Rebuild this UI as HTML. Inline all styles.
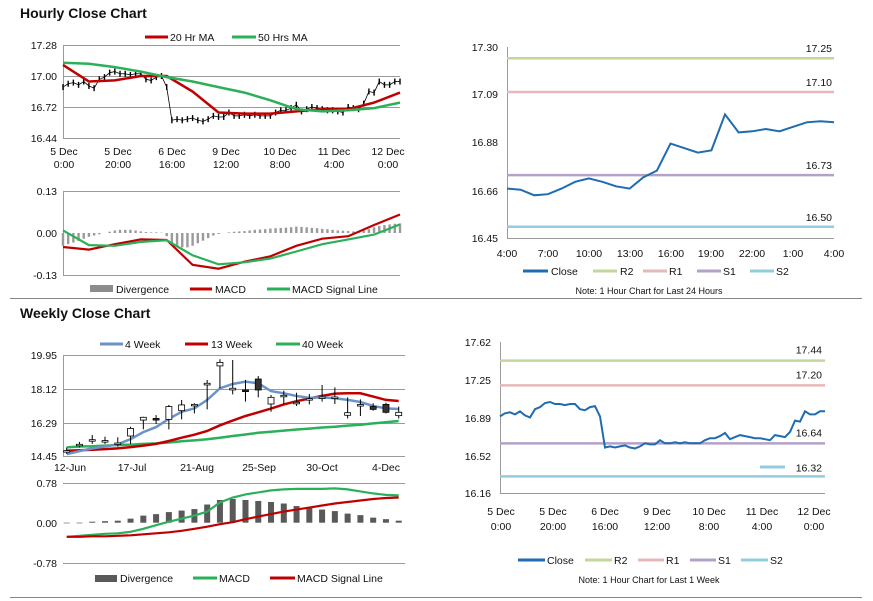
<!DOCTYPE html>
<html><head><meta charset="utf-8"><style>
body{margin:0;background:#fff;}
svg{display:block;font-family:"Liberation Sans",Arial,sans-serif;}
.t{font-size:10.5px;fill:#111;}
.s{font-size:9px;fill:#111;}
.ttl{font-size:14px;font-weight:bold;fill:#111;}
.g{stroke:#9a9a9a;stroke-width:1;}
</style></head><body>
<svg id="root" width="873" height="601" viewBox="0 0 873 601">
<rect width="873" height="601" fill="#fff"/>
<text class="ttl" x="20" y="18">Hourly Close Chart</text>
<text class="ttl" x="20" y="318">Weekly Close Chart</text>
<line x1="10" y1="298.5" x2="862" y2="298.5" stroke="#888"/>
<line x1="10" y1="597.5" x2="862" y2="597.5" stroke="#888"/>

<!-- Top-left hourly price -->
<g>
<line class="g" x1="63" y1="45.5" x2="400" y2="45.5"/><line class="g" x1="63" y1="76.5" x2="400" y2="76.5"/><line class="g" x1="63" y1="107.5" x2="400" y2="107.5"/><line class="g" x1="63" y1="138.5" x2="400" y2="138.5"/>
<line class="g" x1="63.5" y1="45" x2="63.5" y2="138"/>
<text class="t" x="57" y="49" text-anchor="end">17.28</text><text class="t" x="57" y="80" text-anchor="end">17.00</text><text class="t" x="57" y="111" text-anchor="end">16.72</text><text class="t" x="57" y="142" text-anchor="end">16.44</text>
<g text-anchor="middle"><text class="t" x="64" y="155">5 Dec</text><text class="t" x="64" y="168">0:00</text><text class="t" x="118" y="155">5 Dec</text><text class="t" x="118" y="168">20:00</text><text class="t" x="172" y="155">6 Dec</text><text class="t" x="172" y="168">16:00</text><text class="t" x="226" y="155">9 Dec</text><text class="t" x="226" y="168">12:00</text><text class="t" x="280" y="155">10 Dec</text><text class="t" x="280" y="168">8:00</text><text class="t" x="334" y="155">11 Dec</text><text class="t" x="334" y="168">4:00</text><text class="t" x="388" y="155">12 Dec</text><text class="t" x="388" y="168">0:00</text></g>
</g>
<g><line x1="145" y1="37" x2="168" y2="37" stroke="#c00000" stroke-width="3"/><text class="t" x="170" y="41">20 Hr MA</text><line x1="232" y1="37" x2="256" y2="37" stroke="#2bb05a" stroke-width="3"/><text class="t" x="258" y="41">50 Hrs MA</text></g>
<g id="tl"></g>

<!-- hourly MACD -->
<g>
<line class="g" x1="63" y1="191.5" x2="400" y2="191.5"/><line class="g" x1="63" y1="275.5" x2="400" y2="275.5"/><line class="g" x1="63.5" y1="191" x2="63.5" y2="275"/>
<text class="t" x="57" y="195" text-anchor="end">0.13</text><text class="t" x="57" y="237" text-anchor="end">0.00</text><text class="t" x="57" y="279" text-anchor="end">-0.13</text>
</g>
<g><rect x="90" y="285" width="23" height="7" fill="#8c8c8c"/><text class="t" x="116" y="293">Divergence</text><line x1="190" y1="289" x2="212" y2="289" stroke="#c00000" stroke-width="3"/><text class="t" x="215" y="293">MACD</text><line x1="267" y1="289" x2="290" y2="289" stroke="#2bb05a" stroke-width="3"/><text class="t" x="292" y="293">MACD Signal Line</text></g>
<g id="tm"></g>

<!-- top-right -->
<g>
<line class="g" x1="507.5" y1="47" x2="507.5" y2="238"/><line class="g" x1="507" y1="238.5" x2="834" y2="238.5"/>
<text class="t" x="498" y="51" text-anchor="end">17.30</text><text class="t" x="498" y="98" text-anchor="end">17.09</text><text class="t" x="498" y="146" text-anchor="end">16.88</text><text class="t" x="498" y="195" text-anchor="end">16.66</text><text class="t" x="498" y="242" text-anchor="end">16.45</text>
<g text-anchor="middle"><text class="t" x="507" y="257">4:00</text><text class="t" x="548" y="257">7:00</text><text class="t" x="589" y="257">10:00</text><text class="t" x="630" y="257">13:00</text><text class="t" x="671" y="257">16:00</text><text class="t" x="711" y="257">19:00</text><text class="t" x="752" y="257">22:00</text><text class="t" x="793" y="257">1:00</text><text class="t" x="834" y="257">4:00</text></g>
</g>
<g id="tr"></g>
<g><line x1="523" y1="271" x2="548" y2="271" stroke="#1f6cb0" stroke-width="3"/><text class="t" x="551" y="275">Close</text><line x1="593" y1="271" x2="617" y2="271" stroke="#c3d69b" stroke-width="3"/><text class="t" x="620" y="275">R2</text><line x1="643" y1="271" x2="667" y2="271" stroke="#e6b9b8" stroke-width="3"/><text class="t" x="669" y="275">R1</text><line x1="697" y1="271" x2="721" y2="271" stroke="#b3a2c7" stroke-width="3"/><text class="t" x="723" y="275">S1</text><line x1="750" y1="271" x2="774" y2="271" stroke="#93cddd" stroke-width="3"/><text class="t" x="776" y="275">S2</text>
<text class="s" x="649" y="294" text-anchor="middle">Note: 1 Hour Chart for Last 24 Hours</text></g>

<!-- weekly -->
<g>
<line class="g" x1="63" y1="355.5" x2="405" y2="355.5"/><line class="g" x1="63" y1="389.5" x2="405" y2="389.5"/><line class="g" x1="63" y1="423.5" x2="405" y2="423.5"/><line class="g" x1="63" y1="456.5" x2="405" y2="456.5"/><line class="g" x1="63.5" y1="355" x2="63.5" y2="456"/>
<text class="t" x="57" y="359" text-anchor="end">19.95</text><text class="t" x="57" y="393" text-anchor="end">18.12</text><text class="t" x="57" y="427" text-anchor="end">16.29</text><text class="t" x="57" y="460" text-anchor="end">14.45</text>
<g text-anchor="middle"><text class="t" x="70" y="471">12-Jun</text><text class="t" x="132" y="471">17-Jul</text><text class="t" x="197" y="471">21-Aug</text><text class="t" x="259" y="471">25-Sep</text><text class="t" x="322" y="471">30-Oct</text><text class="t" x="386" y="471">4-Dec</text></g>
</g>
<g><line x1="100" y1="344" x2="123" y2="344" stroke="#6a94c8" stroke-width="3"/><text class="t" x="125" y="348">4 Week</text><line x1="185" y1="344" x2="208" y2="344" stroke="#c00000" stroke-width="3"/><text class="t" x="211" y="348">13 Week</text><line x1="276" y1="344" x2="300" y2="344" stroke="#2bb05a" stroke-width="3"/><text class="t" x="302" y="348">40 Week</text></g>
<g id="wk"></g>
<g>
<line class="g" x1="63" y1="483.5" x2="405" y2="483.5"/><line class="g" x1="63" y1="563.5" x2="405" y2="563.5"/>
<text class="t" x="57" y="487" text-anchor="end">0.78</text><text class="t" x="57" y="527" text-anchor="end">0.00</text><text class="t" x="57" y="567" text-anchor="end">-0.78</text>
</g>
<g><rect x="95" y="575" width="22" height="7" fill="#595959"/><text class="t" x="120" y="582">Divergence</text><line x1="193" y1="578" x2="217" y2="578" stroke="#2bb05a" stroke-width="3"/><text class="t" x="219" y="582">MACD</text><line x1="270" y1="578" x2="295" y2="578" stroke="#c00000" stroke-width="3"/><text class="t" x="297" y="582">MACD Signal Line</text></g>
<g id="wm"></g>

<!-- bottom-right -->
<g>
<line class="g" x1="500.5" y1="342" x2="500.5" y2="493"/><line class="g" x1="500" y1="493.5" x2="825" y2="493.5"/>
<text class="t" x="491" y="346" text-anchor="end">17.62</text><text class="t" x="491" y="384" text-anchor="end">17.25</text><text class="t" x="491" y="422" text-anchor="end">16.89</text><text class="t" x="491" y="460" text-anchor="end">16.52</text><text class="t" x="491" y="497" text-anchor="end">16.16</text>
<g text-anchor="middle"><text class="t" x="501" y="515">5 Dec</text><text class="t" x="501" y="530">0:00</text><text class="t" x="553" y="515">5 Dec</text><text class="t" x="553" y="530">20:00</text><text class="t" x="605" y="515">6 Dec</text><text class="t" x="605" y="530">16:00</text><text class="t" x="657" y="515">9 Dec</text><text class="t" x="657" y="530">12:00</text><text class="t" x="709" y="515">10 Dec</text><text class="t" x="709" y="530">8:00</text><text class="t" x="762" y="515">11 Dec</text><text class="t" x="762" y="530">4:00</text><text class="t" x="814" y="515">12 Dec</text><text class="t" x="814" y="530">0:00</text></g>
</g>
<g id="br"></g>
<line x1="760" y1="467" x2="785" y2="467" stroke="#93cddd" stroke-width="3"/>
<g><line x1="518" y1="560" x2="545" y2="560" stroke="#1f6cb0" stroke-width="3"/><text class="t" x="547" y="564">Close</text><line x1="585" y1="560" x2="612" y2="560" stroke="#c3d69b" stroke-width="3"/><text class="t" x="614" y="564">R2</text><line x1="638" y1="560" x2="664" y2="560" stroke="#e6b9b8" stroke-width="3"/><text class="t" x="666" y="564">R1</text><line x1="690" y1="560" x2="716" y2="560" stroke="#b3a2c7" stroke-width="3"/><text class="t" x="718" y="564">S1</text><line x1="741" y1="560" x2="768" y2="560" stroke="#93cddd" stroke-width="3"/><text class="t" x="770" y="564">S2</text>
<text class="s" x="649" y="583" text-anchor="middle">Note: 1 Hour Chart for Last 1 Week</text></g>
</svg>
<script>
// ---- hourly (1 week) close data ----
const hourClose=[16.90,16.93,16.94,16.92,16.95,16.91,16.89,16.97,16.99,17.03,17.04,17.02,17.02,17.01,17.02,17.02,16.97,16.96,16.99,17.00,16.90,16.60,16.61,16.60,16.61,16.62,16.60,16.59,16.61,16.64,16.63,16.63,16.67,16.64,16.64,16.65,16.64,16.65,16.64,16.64,16.64,16.67,16.69,16.69,16.71,16.74,16.68,16.70,16.72,16.71,16.70,16.69,16.69,16.68,16.67,16.72,16.71,16.70,16.75,16.86,16.85,16.95,16.92,16.92,16.95,16.95];
const ma20=[17.10,16.95,16.96,17.00,17.00,16.86,16.67,16.66,16.66,16.68,16.70,16.70,16.76,16.85];
const ma50=[17.12,17.11,17.08,17.04,16.99,16.95,16.90,16.85,16.78,16.70,16.68,16.69,16.71,16.76];
const hMacd=[-0.044,-0.052,-0.035,-0.020,-0.022,-0.100,-0.112,-0.090,-0.073,-0.040,-0.018,-0.010,0.025,0.058];
const hSignal=[0.008,-0.038,-0.040,-0.028,-0.023,-0.070,-0.098,-0.092,-0.080,-0.058,-0.035,-0.020,-0.005,0.027];
const hDiv=[-0.040,-0.035,-0.030,-0.025,-0.018,-0.012,-0.008,-0.004,0.000,0.004,0.008,0.010,0.010,0.010,0.008,0.005,0.003,0.002,0.002,0.001,-0.010,-0.030,-0.040,-0.045,-0.045,-0.040,-0.032,-0.024,-0.016,-0.008,-0.003,0.000,0.002,0.004,0.005,0.006,0.008,0.010,0.011,0.012,0.014,0.015,0.016,0.017,0.018,0.020,0.019,0.018,0.016,0.015,0.013,0.012,0.010,0.008,0.007,0.006,0.005,0.005,0.008,0.012,0.018,0.022,0.025,0.027,0.029,0.030];
// ---- 24h ----
const dayClose=[16.67,16.665,16.64,16.645,16.67,16.70,16.715,16.70,16.68,16.67,16.72,16.75,16.87,16.85,16.83,16.84,17.00,16.92,16.925,16.935,16.925,16.945,16.965,16.97,16.965];
const dayLevels=[17.25,17.10,16.73,16.50];
const dayLabels=["17.25","17.10","16.73","16.50"];
const weekLevels=[17.44,17.20,16.64,16.32];
const weekLabels=["17.44","17.20","16.64","16.32"];
const levelNames=["r2","r1","s1","s2"];
// ---- weekly ----
const wOpen=[14.72,15.10,15.33,15.28,15.15,15.57,16.43,16.52,16.47,16.94,17.22,18.33,19.36,18.06,18.06,18.65,17.30,17.73,17.35,17.55,17.64,17.64,16.69,17.23,17.16,17.28,16.67];
const wClose=[14.78,15.12,15.37,15.32,15.19,15.98,16.58,16.43,17.16,17.25,17.28,18.42,19.55,18.15,17.97,18.06,17.66,17.77,17.39,17.59,17.68,17.68,16.83,17.27,17.01,16.85,16.85];
const wHigh=[14.95,15.25,15.62,15.53,15.50,16.07,16.61,16.70,17.25,17.52,17.34,18.60,19.72,19.68,18.60,18.81,17.79,18.02,17.91,17.84,18.33,18.20,17.66,17.55,17.34,17.37,17.16];
const wLow=[14.60,14.95,15.14,15.14,14.99,15.14,15.93,16.22,15.93,16.47,16.79,17.01,18.15,17.82,17.43,17.66,16.88,17.30,17.19,17.28,17.43,17.30,16.52,16.65,16.94,16.79,16.52];
const w4=[14.59,14.75,14.90,15.00,15.12,15.40,15.78,16.05,16.50,16.88,17.06,17.52,18.15,18.38,18.51,18.42,18.00,17.88,17.73,17.63,17.66,17.61,17.52,17.41,17.19,17.06,17.03];
const w13=[14.77,14.80,14.83,14.86,14.90,14.97,15.05,15.14,15.30,15.48,15.64,15.84,16.15,16.40,16.65,16.85,17.05,17.28,17.45,17.60,17.74,17.86,17.88,17.88,17.70,17.52,17.46];
const w40=[14.95,15.00,15.02,15.05,15.08,15.10,15.14,15.17,15.22,15.28,15.33,15.39,15.48,15.57,15.65,15.74,15.80,15.86,15.92,15.97,16.03,16.07,16.13,16.18,16.25,16.31,16.38];
const wMacd=[-0.28,-0.26,-0.24,-0.22,-0.21,-0.18,-0.12,-0.05,0.02,0.08,0.14,0.22,0.40,0.50,0.56,0.60,0.64,0.66,0.67,0.67,0.67,0.68,0.66,0.62,0.58,0.55,0.54];
const wSignal=[-0.28,-0.28,-0.27,-0.27,-0.26,-0.25,-0.23,-0.21,-0.19,-0.16,-0.12,-0.08,-0.03,0.01,0.07,0.12,0.17,0.22,0.26,0.30,0.34,0.38,0.41,0.44,0.47,0.49,0.50];
const wDiv=[0.00,0.00,0.02,0.03,0.04,0.08,0.14,0.17,0.21,0.24,0.27,0.36,0.45,0.47,0.45,0.43,0.41,0.38,0.33,0.29,0.26,0.23,0.18,0.15,0.10,0.07,0.04];

const NS='http://www.w3.org/2000/svg';
function mk(parent,tag,attrs){const e=document.createElementNS(NS,tag);for(const k in attrs)e.setAttribute(k,attrs[k]);parent.appendChild(e);return e;}
function pts(arr,xf,yf,step){return arr.map((v,i)=>xf(i*step).toFixed(1)+','+yf(v).toFixed(1)).join(' ');}

// scales
const xTL=i=>63+i*(337/65), yTL=v=>45+(17.28-v)*110.7, yTM=v=>233-v*319;
const xTR=i=>507+i*(327/24), yTR=v=>47+(17.30-v)*224.7;
const xBR=i=>500+i*(325/65), yBR=v=>342+(17.62-v)*103.4;
const xW=i=>66.7+i*12.77, yW=v=>355+(19.95-v)*18.49, yWM=v=>522.7-v*50.5;

const tl=document.getElementById('tl');
hourClose.forEach((v,i)=>{
  const b=mk(tl,'line',{x1:xTL(i),x2:xTL(i),y1:yTL(v)-3,y2:yTL(v)+3,stroke:'#000','stroke-width':1.4});
  
  
  if(i>0){const c=mk(tl,'line',{x1:xTL(i-1),x2:xTL(i),y1:yTL(hourClose[i-1]),y2:yTL(v),stroke:'#000','stroke-width':0.8});
  
  }
});
const m20=mk(tl,'polyline',{points:pts(ma20,xTL,yTL,5),fill:'none',stroke:'#c00000','stroke-width':2.5});


const m50=mk(tl,'polyline',{points:pts(ma50,xTL,yTL,5),fill:'none',stroke:'#2bb05a','stroke-width':2.5});



const tm=document.getElementById('tm');
hDiv.forEach((v,i)=>{
  const b=mk(tm,'rect',{x:xTL(i)-1.2,width:2.4,y:Math.min(yTM(0),yTM(v)),height:Math.abs(yTM(v)-yTM(0)),fill:'#9a9a9a'});
  
  
});
const hm=mk(tm,'polyline',{points:pts(hMacd,xTL,yTM,5),fill:'none',stroke:'#c00000','stroke-width':2.2});


const hs=mk(tm,'polyline',{points:pts(hSignal,xTL,yTM,5),fill:'none',stroke:'#2bb05a','stroke-width':2.2});



const lvlColors=['#c3d69b','#e6b9b8','#b3a2c7','#93cddd'];
const tr=document.getElementById('tr');
dayLevels.forEach((v,i)=>{
  const l=mk(tr,'line',{x1:507,x2:834,y1:yTR(v),y2:yTR(v),stroke:lvlColors[i],'stroke-width':2.5});
  
  
  const t=mk(tr,'text',{x:832,y:yTR(v)-6,'text-anchor':'end','class':'t'});
  t.textContent=dayLabels[i];
  
  
});
const dc=mk(tr,'polyline',{points:pts(dayClose,xTR,yTR,1),fill:'none',stroke:'#1f6cb0','stroke-width':2});



const br=document.getElementById('br');
weekLevels.forEach((v,i)=>{
  const l=mk(br,'line',{x1:500,x2:825,y1:yBR(v),y2:yBR(v),stroke:lvlColors[i],'stroke-width':2.5});
  
  
  const t=mk(br,'text',{x:822,y:i==3?yBR(v)-5:yBR(v)-7,'text-anchor':'end','class':'t'});
  t.textContent=weekLabels[i];
  
  
});
const bc=mk(br,'polyline',{points:pts(hourClose,xBR,yBR,1),fill:'none',stroke:'#1f6cb0','stroke-width':2});



const wk=document.getElementById('wk');
const wl40=mk(wk,'polyline',{points:pts(w40,xW,yW,1),fill:'none',stroke:'#2bb05a','stroke-width':2.5});


const wl13=mk(wk,'polyline',{points:pts(w13,xW,yW,1),fill:'none',stroke:'#c00000','stroke-width':2.5});


const wl4=mk(wk,'polyline',{points:pts(w4,xW,yW,1),fill:'none',stroke:'#6a94c8','stroke-width':2.5});


wOpen.forEach((o,i)=>{
  const c=wClose[i],x=xW(i);
  const w=mk(wk,'line',{x1:x,x2:x,y1:yW(wHigh[i]),y2:yW(wLow[i]),stroke:'#000','stroke-width':1});
  
  
  const top=yW(Math.max(o,c)),h=Math.max(1.5,Math.abs(yW(o)-yW(c)));
  const r=mk(wk,'rect',{x:x-3,width:6,y:top,height:h,fill:c>=o?'#fff':'#333',stroke:'#000','stroke-width':0.8});
  
  
});

const wm=document.getElementById('wm');
wDiv.forEach((v,i)=>{
  const b=mk(wm,'rect',{x:xW(i)-3,width:6,y:Math.min(yWM(0),yWM(v)),height:Math.max(0.6,Math.abs(yWM(v)-yWM(0))),fill:'#595959'});
  
  
});
const wmm=mk(wm,'polyline',{points:pts(wMacd,xW,yWM,1),fill:'none',stroke:'#2bb05a','stroke-width':2.2});


const wms=mk(wm,'polyline',{points:pts(wSignal,xW,yWM,1),fill:'none',stroke:'#c00000','stroke-width':2.2});


</script>
</body></html>
